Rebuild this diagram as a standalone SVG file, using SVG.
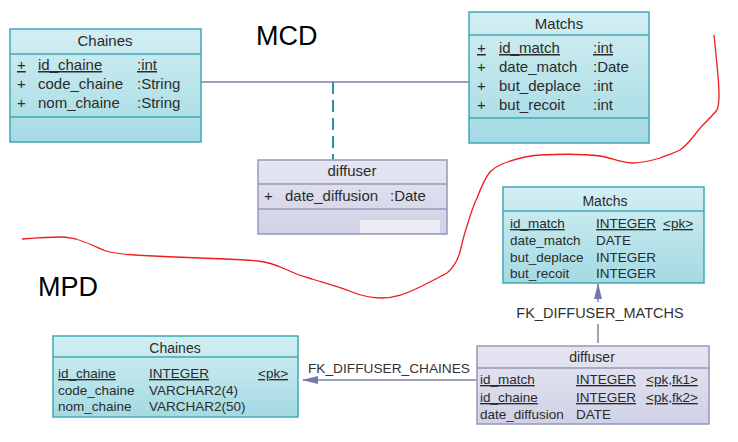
<svg xmlns="http://www.w3.org/2000/svg" width="738" height="442" viewBox="0 0 738 442">
<defs>
<linearGradient id="teal" x1="0" y1="0" x2="0" y2="1">
<stop offset="0" stop-color="#d3eff3"/>
<stop offset="1" stop-color="#a4dae3"/>
</linearGradient>
<linearGradient id="lav" x1="0" y1="0" x2="0" y2="1">
<stop offset="0" stop-color="#e6e6f2"/>
<stop offset="1" stop-color="#d0d1e6"/>
</linearGradient>
<marker id="arr" viewBox="0 0 16 10" refX="15" refY="5" markerWidth="16" markerHeight="10" markerUnits="userSpaceOnUse" orient="auto">
<path d="M0,1 L16,5 L0,9 z" fill="#7378ad"/>
</marker>
<style>
.tbox{fill:url(#teal);stroke:#3fa9b9;stroke-width:1.5}
.tdiv{stroke:#3fa9b9;stroke-width:1.5}
.lbox{fill:url(#lav);stroke:#9798b6;stroke-width:1.5}
.ldiv{stroke:#9798b6;stroke-width:1.5}
text{font-family:"Liberation Sans",Arial,sans-serif;fill:#2b2b2b}
.ttl{font-size:15px;text-anchor:middle}
.ttl2{font-size:14px;text-anchor:middle}
.a1{font-size:15px}
.a2{font-size:13.5px}
.u{text-decoration:underline}
.big{font-size:27px;fill:#000}
.fk{font-size:13.7px;fill:#333}
.con{stroke:#7d829c;stroke-width:1.5;fill:none}
.fkl{stroke:#8084a6;stroke-width:1.5;fill:none}
</style>
</defs>
<rect width="738" height="442" fill="#ffffff"/>

<text class="big" x="256" y="45">MCD</text>
<text class="big" x="38" y="296">MPD</text>

<g id="connectors">
<line class="con" x1="201" y1="82" x2="469" y2="82"/>
<line x1="333" y1="82" x2="333" y2="160" stroke="#2e8fae" stroke-width="2" stroke-dasharray="12,6"/>
<line class="fkl" x1="598" y1="343" x2="598" y2="324"/>
<line class="fkl" x1="598" y1="302" x2="598" y2="284" marker-end="url(#arr)"/>
<text class="fk" x="600" y="318" text-anchor="middle" style="font-size:14.5px">FK_DIFFUSER_MATCHS</text>
<line class="fkl" x1="477" y1="380" x2="303" y2="380" marker-end="url(#arr)"/>
<text class="fk" x="308" y="373">FK_DIFFUSER_CHAINES</text>
</g>

<g id="mcd-chaines">
<rect class="tbox" x="10" y="29" width="191" height="113"/>
<line class="tdiv" x1="10" y1="54" x2="201" y2="54"/>
<line class="tdiv" x1="10" y1="117" x2="201" y2="117"/>
<text class="ttl" x="105" y="46">Chaines</text>
<text class="a1 u" x="17" y="70">+</text><text class="a1 u" x="38" y="70">id_chaine</text><text class="a1 u" x="137" y="70">:int</text>
<text class="a1" x="17" y="89">+</text><text class="a1" x="38" y="89">code_chaine</text><text class="a1" x="137" y="89">:String</text>
<text class="a1" x="17" y="108">+</text><text class="a1" x="38" y="108">nom_chaine</text><text class="a1" x="137" y="108">:String</text>
</g>

<g id="mcd-matchs">
<rect class="tbox" x="469" y="12" width="180" height="131"/>
<line class="tdiv" x1="469" y1="35" x2="649" y2="35"/>
<line class="tdiv" x1="469" y1="118" x2="649" y2="118"/>
<text class="ttl" x="559" y="29">Matchs</text>
<text class="a1 u" x="477" y="53">+</text><text class="a1 u" x="499" y="53">id_match</text><text class="a1 u" x="593" y="53">:int</text>
<text class="a1" x="477" y="72">+</text><text class="a1" x="499" y="72">date_match</text><text class="a1" x="593" y="72">:Date</text>
<text class="a1" x="477" y="91">+</text><text class="a1" x="499" y="91">but_deplace</text><text class="a1" x="593" y="91">:int</text>
<text class="a1" x="477" y="110">+</text><text class="a1" x="499" y="110">but_recoit</text><text class="a1" x="593" y="110">:int</text>
</g>

<g id="mcd-diffuser">
<rect class="lbox" x="258" y="160" width="189" height="74"/>
<rect x="360" y="220" width="80" height="13" fill="#ececf4"/>
<line class="ldiv" x1="258" y1="184" x2="447" y2="184"/>
<line class="ldiv" x1="258" y1="209" x2="447" y2="209"/>
<text class="ttl" x="352" y="176">diffuser</text>
<text class="a1" x="264" y="201">+</text><text class="a1" x="285" y="201">date_diffusion</text><text class="a1" x="390" y="201">:Date</text>
</g>

<g id="mpd-matchs">
<rect class="tbox" x="503" y="187" width="201" height="96"/>
<line class="tdiv" x1="503" y1="211" x2="704" y2="211"/>
<text class="ttl2" x="605" y="206">Matchs</text>
<text class="a2 u" x="510" y="228">id_match</text><text class="a2 u" x="596" y="228">INTEGER</text><text class="a2 u" x="663" y="228">&lt;pk&gt;</text>
<text class="a2" x="510" y="245">date_match</text><text class="a2" x="596" y="245">DATE</text>
<text class="a2" x="510" y="262">but_deplace</text><text class="a2" x="596" y="262">INTEGER</text>
<text class="a2" x="510" y="278">but_recoit</text><text class="a2" x="596" y="278">INTEGER</text>
</g>

<g id="mpd-chaines">
<rect class="tbox" x="53" y="336" width="245" height="81"/>
<line class="tdiv" x1="53" y1="357" x2="298" y2="357"/>
<text class="ttl2" x="175" y="353">Chaines</text>
<text class="a2 u" x="58" y="378">id_chaine</text><text class="a2 u" x="149" y="378">INTEGER</text><text class="a2 u" x="258" y="378">&lt;pk&gt;</text>
<text class="a2" x="58" y="395">code_chaine</text><text class="a2" x="149" y="395">VARCHAR2(4)</text>
<text class="a2" x="58" y="411">nom_chaine</text><text class="a2" x="149" y="411">VARCHAR2(50)</text>
</g>

<g id="mpd-diffuser">
<rect class="lbox" x="477" y="346" width="232" height="78"/>
<line class="ldiv" x1="477" y1="368" x2="709" y2="368"/>
<text class="ttl2" x="592" y="362">diffuser</text>
<text class="a2 u" x="480" y="384">id_match</text><text class="a2 u" x="576" y="384">INTEGER</text><text class="a2 u" x="646" y="384">&lt;pk,fk1&gt;</text>
<text class="a2 u" x="480" y="402">id_chaine</text><text class="a2 u" x="576" y="402">INTEGER</text><text class="a2 u" x="646" y="402">&lt;pk,fk2&gt;</text>
<text class="a2" x="480" y="419">date_diffusion</text><text class="a2" x="576" y="419">DATE</text>
</g>

<path d="M22,239 C35,238 50,237 60,237 C66,237 70,238 76,239 C82,241 87,243 92,245 C97,247 100,249 106,251 C112,253 120,254 135,255 C150,256 170,257 200,258 C220,259 240,259 258,261 C268,262 276,265 285,269 C293,273 300,276 312,279 C325,283 340,287 352,292 C362,296 370,298 382,298 C395,298 405,294 420,287 C432,281 440,277 447,273 C453,268 457,262 460,252 C462,243 464,235 467,226 C470,216 473,206 477,198 C482,185 485,178 490,172 C494,168 497,166 502,164 C512,160 525,156 540,155 C560,154 585,154 600,156 C612,158 620,162 632,163 C642,163 650,161 660,158 C668,155 674,153 680,150 C688,145 694,135 702,126 C708,120 713,115 717,110 C719,105 719,100 719,95 C719,85 718,75 717,65 C716,55 715,45 714,35" fill="none" stroke="#ee1c1c" stroke-width="1.3"/>
</svg>
